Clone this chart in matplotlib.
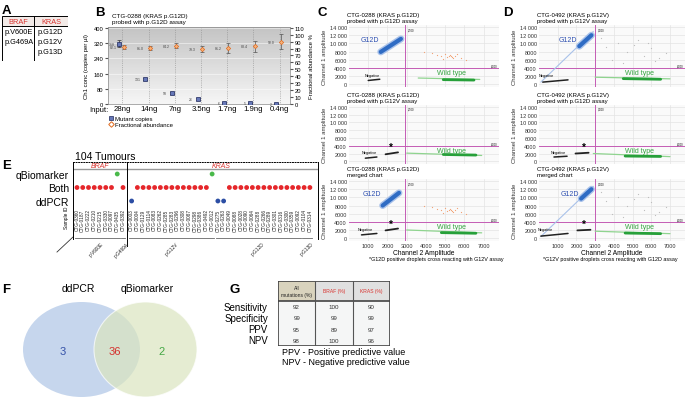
import numpy as np
import matplotlib
matplotlib.use('Agg')
import matplotlib.pyplot as plt
from matplotlib.patches import Rectangle, Ellipse
from matplotlib.lines import Line2D
from matplotlib.colors import LinearSegmentedColormap

plt.rcParams['font.family'] = ['Liberation Sans', 'DejaVu Sans']

W, H = 685, 410

# ---------------- data ----------------
# A: mutations covered by the assays
braf_mutations = ['p.V600E', 'p.G469A']
kras_mutations = ['p.G12D', 'p.G12V', 'p.G13D']

# B: dilution series
inputs = ['28ng', '14ng', '7ng', '3.5ng', '1.7ng', '1.9ng', '0.4ng']
mutant_copies = [318, 131, 58, 26, 6, 5, 2]
mutant_err = [16, 6, 4, 3, 2, 2, 1]
frac_abund = [82.1, 81.0, 84.2, 79.3, 81.2, 83.4, 90.0]
frac_err = [3, 3, 4, 5, 7, 8, 11]

# C / D: droplet clusters, (x start, x end), (y start, y end) in amplitude units
c_clusters = [
    dict(pos=((1650, 2700), (7900, 11100)), neg=((1000, 1600), (900, 1200)),
         wt=((3600, 6800), (1500, 1150)), wt_core=((4900, 6500), (1100, 1000))),
    dict(neg=((850, 1450), (800, 1100)), star=((1900, 2550), (1800, 2300)),
         wt=((3000, 6900), (2100, 1500)), wt_core=((4900, 6600), (1750, 1600))),
    dict(pos=((1750, 2600), (8000, 11100)), neg=((650, 1450), (800, 1150)),
         star=((1900, 2550), (1900, 2350)),
         wt=((3000, 6900), (2000, 1300)), wt_core=((4800, 6600), (1350, 1200))),
]
d_clusters = [
    dict(trail=((100, 2900), (500, 12900)), pos=((2150, 2800), (9300, 12000)),
         neg=((200, 1550), (500, 1050)),
         wt=((3000, 7000), (1700, 1300)), wt_core=((4500, 6500), (1350, 1200))),
    dict(neg=((800, 1500), (1100, 1300)), star=((1950, 2650), (2000, 2200)),
         wt=((2900, 7000), (2000, 1200)), wt_core=((4600, 6500), (1350, 1250))),
    dict(trail=((100, 2900), (400, 12700)), pos=((2250, 2800), (9700, 12000)),
         neg=((100, 1550), (500, 1150)), star=((2050, 2750), (1900, 2050)),
         wt=((3000, 7000), (1700, 1100)), wt_core=((4600, 6500), (1250, 1100))),
]
# sparse double-positive droplets
c_sparse_x = [4300, 4600, 4800, 5000, 5100, 5200, 5300, 5400, 5500, 5600, 5800, 4900, 5250, 5350, 3900, 6100]
c_sparse_y = [7600, 7200, 6900, 7400, 6600, 6800, 7000, 6500, 6900, 7300, 6400, 6200, 7100, 6700, 7800, 6000]
d_sparse_x = [3600, 4200, 4700, 5100, 5600, 6000, 6400, 6800, 3900, 5300, 4500, 6200, 3300, 5800]
d_sparse_y = [9000, 10200, 8000, 9500, 7000, 8800, 6500, 7600, 6000, 10800, 5200, 5600, 11200, 10000]
c_threshold = (2900, 4000)
d_threshold = (3000, 4000)

# E: concordance by sample
braf_ids = ['CTG-0360', 'CTG-0187', 'CTG-0222', 'CTG-0210', 'CTG-0215', 'CTG-0330',
            'CTG-0097', 'CTG-0435', 'CTG-0392']
braf_calls = ['both', 'both', 'both', 'both', 'both', 'both', 'both', 'q', 'both']
kras_ids = ['CTG-0003', 'CTG-0004', 'CTG-0129', 'CTG-0114', 'CTG-0083', 'CTG-0262',
            'CTG-0285', 'CTG-0283', 'CTG-0296', 'CTG-0308', 'CTG-0087', 'CTG-0298',
            'CTG-0386', 'CTG-0492', 'CTG-0012', 'CTG-0275', 'CTG-0263', 'CTG-0049',
            'CTG-0088', 'CTG-0028', 'CTG-0090', 'CTG-0064', 'CTG-0288', 'CTG-0266',
            'CTG-0289', 'CTG-0301', 'CTG-0316', 'CTG-0300', 'CTG-0359', 'CTG-0092',
            'CTG-0104', 'CTG-0314']
kras_calls = ['dd', 'both', 'both', 'both', 'both', 'both', 'both', 'both', 'both',
              'both', 'both', 'both', 'both', 'both', 'q', 'dd', 'dd', 'both', 'both',
              'both', 'both', 'both', 'both', 'both', 'both', 'both', 'both', 'both',
              'both', 'both', 'both', 'both']
braf_groups = [('p.V600E', 0, 7), ('p.G469A', 8, 8)]
kras_groups = [('p.G12V', 0, 14), ('p.G12D', 15, 29), ('p.G13D', 30, 31)]
row_names = ['ddPCR', 'Both', 'qBiomarker']

# F: Venn counts
venn_only_ddpcr = 3
venn_both = 36
venn_only_qbio = 2

# G: performance table
g_columns = ['All\nmutations (%)', 'BRAF (%)', 'KRAS (%)']
g_metrics = ['Sensitivity', 'Specificity', 'PPV', 'NPV']
all_pct = [92, 99, 95, 98]
braf_pct = [100, 99, 89, 100]
kras_pct = [90, 99, 97, 96]

RED = '#d8322e'

fig = plt.figure(figsize=(W / 100, H / 100), dpi=100)


def px_axes(x0, y0, x1, y1):
    return fig.add_axes([x0 / W, 1 - y1 / H, (x1 - x0) / W, (y1 - y0) / H])


def ftext(x, y, s, **kw):
    return fig.text(x / W, 1 - y / H, s, **kw)


# panel letters
for letter, (lx, ly) in zip('ABCDEFG', [(2, 5), (95, 7), (318, 7), (503, 7),
                                         (2, 160), (2, 284), (230, 284)]):
    ftext(lx, ly, letter, fontsize=9.5, fontweight='bold', va='top', ha='left')

# ---------------- A ----------------
ax_a = px_axes(2, 17, 68, 62)
ax_a.set_xlim(0, 66)
ax_a.set_ylim(45, 0)
ax_a.axis('off')
ax_a.add_patch(Rectangle((0, 0), 66, 10, facecolor='#f3ebe8', edgecolor='none'))
ax_a.add_patch(Rectangle((0, 0), 66, 45, facecolor='none', edgecolor='black', lw=0.7))
ax_a.plot([0, 66], [10, 10], color='black', lw=0.7)
ax_a.plot([32, 32], [0, 45], color='black', lw=0.7)
ax_a.text(16, 5.3, 'BRAF', color=RED, fontsize=5.3, ha='center', va='center')
ax_a.text(49, 5.3, 'KRAS', color=RED, fontsize=5.3, ha='center', va='center')
for i, m in enumerate(braf_mutations):
    ax_a.text(2.5, 16 + 10 * i, m, fontsize=5.3, va='center')
for i, m in enumerate(kras_mutations):
    ax_a.text(35.5, 16 + 10 * i, m, fontsize=5.3, va='center')

# ---------------- B ----------------
ax_b = px_axes(108, 28, 290, 105)
grad = LinearSegmentedColormap.from_list('bg', ['#f6f6f6', '#c4c4c4'])
ax_b.imshow(np.linspace(0, 1, 100).reshape(-1, 1)[::-1], extent=[0, 1, 0, 1],
            transform=ax_b.transAxes, aspect='auto', cmap=grad, zorder=0)
xs = np.arange(len(inputs))
ax_b.set_xlim(-0.55, 6.4)
ax_b.set_ylim(0, 405)
ax_b.set_yticks(range(0, 401, 80))
ax_b.set_xticks(xs)
ax_b.set_xticklabels(inputs, fontsize=5.6)
ax_b.tick_params(axis='y', labelsize=4.2, length=2, pad=1.5, color='#555')
ax_b.tick_params(axis='x', length=0, pad=1)
ax_b.grid(axis='y', color='white', lw=0.5, alpha=0.7)
ax_b.grid(axis='x', color='#8a8a8a', lw=0.5, ls=':')
for s in ax_b.spines.values():
    s.set_color('#888')
    s.set_linewidth(0.5)
ax_b.set_ylabel('Ch1 conc (copies per µl)', fontsize=4.3, labelpad=3)
ax_b.errorbar(xs - 0.12, mutant_copies, yerr=mutant_err, fmt='s', ms=2.2,
              mfc='#6678b8', mec='#1d275a', mew=0.5, ecolor='#333', elinewidth=0.5,
              capsize=1.5, capthick=0.5, zorder=4)
for x, v in zip(xs, mutant_copies):
    ax_b.text(x - 0.3, v, str(v), fontsize=2.5, color='#444', ha='right', va='center')

ax_b2 = ax_b.twinx()
ax_b2.set_ylim(0, 111)
ax_b2.set_yticks(range(0, 111, 10))
ax_b2.tick_params(axis='y', labelsize=4.2, length=2, pad=1.5, color='#555')
for s in ax_b2.spines.values():
    s.set_visible(False)
ax_b2.set_ylabel('Fractional abundance %', fontsize=4.3, labelpad=3)
ax_b2.errorbar(xs + 0.05, frac_abund, yerr=frac_err, fmt='D', ms=2.2,
               mfc='#f6b27a', mec='#e06a1e', mew=0.5, ecolor='#555', elinewidth=0.5,
               capsize=1.5, capthick=0.5, zorder=4)
for x, v in zip(xs, frac_abund):
    ax_b2.text(x - 0.2, v, '%.1f' % v, fontsize=2.5, color='#444', ha='right', va='center')

ftext(112, 14, 'CTG-0288 (KRAS p.G12D)\nprobed with p.G12D assay', fontsize=4.5,
      va='top', linespacing=1.3)
ftext(108, 110, 'Input:', fontsize=5.6, ha='right', va='center')
fig.legend(handles=[Line2D([], [], ls='none', marker='s', ms=2.8, mfc='#6678b8',
                           mec='#1d275a', mew=0.5),
                    Line2D([], [], ls='none', marker='D', ms=2.8, mfc='none',
                           mec='#e06a1e', mew=0.7)],
           labels=['Mutant copies', 'Fractional abundance'], fontsize=4.3,
           frameon=False, loc='upper left', bbox_to_anchor=(106 / W, 1 - 114 / H),
           handlelength=0.6, handletextpad=0.4, labelspacing=0.1, borderpad=0)


# ---------------- C / D ----------------
def fmt_amp(v):
    return '{:,}'.format(v).replace(',', ' ') if v >= 10000 else str(v)


def droplet_plot(ax, cl, sparse_x, sparse_y, sparse_color, threshold, bottom, star):
    ax.set_facecolor('#fafafa')
    ax.set_xlim(0, 7800)
    ax.set_ylim(-700, 14500)
    ax.set_xticks(range(1000, 8000, 1000))
    yt = list(range(0, 14001, 2000))
    ax.set_yticks(yt)
    ax.set_yticklabels([fmt_amp(v) for v in yt])
    ax.grid(color='#e4e4e4', lw=0.5)
    ax.set_axisbelow(True)
    for s in ax.spines.values():
        s.set_visible(False)
    ax.tick_params(length=0, labelsize=4.0, pad=1.5, labelcolor='#333')
    if not bottom:
        ax.set_xticklabels([])
    ax.set_ylabel('Channel 1 amplitude', fontsize=4.3, labelpad=2, color='#333')
    ax.axvline(threshold[0], color='#c45cb5', lw=0.7)
    ax.axhline(threshold[1], color='#c45cb5', lw=0.7)
    ax.text(threshold[0] + 150, 14000, '{:,}'.format(threshold[0]), fontsize=1.8, va='top')
    ax.text(7700, threshold[1] + 200, '{:,}'.format(threshold[1]), fontsize=1.8, ha='right')
    if sparse_x is not None:
        ax.scatter(sparse_x, sparse_y, s=0.8, color=sparse_color, lw=0)
    if 'trail' in cl:
        ax.plot(*cl['trail'], color='#a9c2ea', lw=0.8, solid_capstyle='round')
    if 'pos' in cl:
        ax.plot(*cl['pos'], color='#a9c2ea', lw=5, solid_capstyle='round')
        ax.plot(*cl['pos'], color='#2f6cc4', lw=3, solid_capstyle='round')
        lx = cl['pos'][0][0] - 100
        ax.text(lx, 11000, 'G12D', color='#2d4fb0', fontsize=5, ha='right', va='center')
    ax.plot(*cl['neg'], color='#222', lw=1.1, solid_capstyle='round')
    ax.text(cl['neg'][0][0] - 200, 2300, 'Negative', fontsize=2.8, va='center')
    if 'star' in cl:
        ax.plot(*cl['star'], color='#222', lw=1.3, solid_capstyle='round')
        ax.text(star, 3600, '*', fontsize=7, ha='center', va='center', fontweight='bold')
    ax.plot(*cl['wt'], color='#8fd48f', lw=0.9, solid_capstyle='round')
    ax.plot(*cl['wt_core'], color='#27a03a', lw=2.0, solid_capstyle='round')
    ax.text(4600, 2900, 'Wild type', color='#33a33f', fontsize=5, va='center')


c_titles = ['CTG-0288 (KRAS p.G12D)\nprobed with p.G12D assay',
            'CTG-0288 (KRAS p.G12D)\nprobed with p.G12V assay',
            'CTG-0288 (KRAS p.G12D)\nmerged chart']
d_titles = ['CTG-0492 (KRAS p.G12V)\nprobed with p.G12V assay',
            'CTG-0492 (KRAS p.G12V)\nprobed with p.G12D assay',
            'CTG-0492 (KRAS p.G12V)\nmerged chart']
rows_px = [(26, 88), (106, 165), (180, 242)]
for k, (y0, y1) in enumerate(rows_px):
    axc = px_axes(349, y0, 499, y1)
    sx = c_sparse_x if k != 1 else None
    droplet_plot(axc, c_clusters[k], sx, c_sparse_y, '#f2a273', c_threshold, k == 2, 2200)
    ftext(347, y0 - 13, c_titles[k], fontsize=4.3, va='top', linespacing=1.3)
    axd = px_axes(539, y0, 685, y1)
    sx = d_sparse_x if k != 1 else None
    droplet_plot(axd, d_clusters[k], sx, d_sparse_y, '#bdbdbd', d_threshold, k == 2, 2400)
    ftext(537, y0 - 13, d_titles[k], fontsize=4.3, va='top', linespacing=1.3)
    if k == 2:
        axc.set_xlabel('Channel 2 Amplitude', fontsize=4.8, labelpad=1)
        axd.set_xlabel('Channel 2 Amplitude', fontsize=4.8, labelpad=1)

ftext(436, 260, '*G12D positive droplets cross reacting with G12V assay', fontsize=3.9,
      ha='center', va='center')
ftext(610, 260, '*G12V positive droplets cross reacting with G12D assay', fontsize=3.9,
      ha='center', va='center')

# ---------------- E ----------------
SP = 5.75
ax_e = px_axes(73, 163, 318, 240)
ax_e.set_xlim(-4 / SP, (318 - 77) / SP)
ax_e.set_ylim(-38 / 13.5, 39 / 13.5)
braf_x = np.arange(len(braf_ids))
kras_x = 9.5 + np.arange(len(kras_ids))
row_of = {'dd': 0, 'both': 1, 'q': 2}
col_of = {'dd': '#2c4ea4', 'both': '#e5262a', 'q': '#49b94a'}
calls = braf_calls + kras_calls
xs_e = np.concatenate([braf_x, kras_x])
ax_e.scatter(xs_e, [row_of[c] for c in calls], c=[col_of[c] for c in calls], s=12,
             lw=0, zorder=3)
ax_e.set_yticks([0, 1, 2])
ax_e.set_yticklabels(row_names, fontsize=7.5)
ax_e.tick_params(axis='y', length=0, pad=3)
ax_e.set_xticks([])
ax_e.spines['bottom'].set_visible(False)
ax_e.spines['top'].set_linestyle(':')
for s in ax_e.spines.values():
    s.set_linewidth(0.7)
ax_e.axhline(2.38, color='#999', lw=1.0)
ax_e.plot([8.75, 8.75], [2.89, -3.35], color='black', lw=0.7, clip_on=False)
ax_e.text(np.mean(braf_x), 2.62, 'BRAF', color=RED, fontsize=5, style='italic',
          ha='center', va='center')
ax_e.text(np.mean(kras_x), 2.62, 'KRAS', color=RED, fontsize=5, style='italic',
          ha='center', va='center')
for x, sid in zip(xs_e, braf_ids + kras_ids):
    ax_e.text(x, -0.55, sid, rotation=90, fontsize=3.4, ha='center', va='top', color='#222')
for groups, base in [(braf_groups, 0), (kras_groups, 9.5)]:
    for name, a, b in groups:
        ax_e.plot([base + a - 0.4, base + b + 0.4], [-2.72, -2.72], color='#666', lw=0.6,
                  clip_on=False)
        ax_e.text(base + (a + b) / 2 + 0.6, -2.95, name, rotation=45, fontsize=3.4,
                  ha='right', va='top', rotation_mode='anchor', color='#222')
ax_e.plot([-3.48, -0.7], [-3.78, -2.67], color='#333', lw=0.6, clip_on=False)
ax_e.text(-1.9, -1.2, 'Sample ID', rotation=90, fontsize=3.4, ha='center', va='center')
ftext(75, 157, '104 Tumours', fontsize=7.5, va='center')

# ---------------- F ----------------
ax_f = px_axes(20, 300, 200, 400)
ax_f.set_xlim(0, 180)
ax_f.set_ylim(0, 100)
ax_f.axis('off')
ax_f.add_patch(Ellipse((61.5, 49.5), 117, 95, facecolor='#bccfea', alpha=0.85,
                       edgecolor='none'))
ax_f.add_patch(Ellipse((125.5, 49.5), 103, 95, facecolor='#dae5bf', alpha=0.7,
                       edgecolor='white', lw=0.8))
ax_f.text(43, 48, str(venn_only_ddpcr), color='#3552a8', fontsize=8, ha='center', va='center')
ax_f.text(95, 48, str(venn_both), color='#d5312e', fontsize=8, ha='center', va='center')
ax_f.text(142, 48, str(venn_only_qbio), color='#44a845', fontsize=8, ha='center', va='center')
ftext(78, 289, 'ddPCR', fontsize=7.5, ha='center', va='center')
ftext(147, 289, 'qBiomarker', fontsize=7.5, ha='center', va='center')

# ---------------- G ----------------
ax_g = px_axes(278, 282, 390, 347)
ax_g.set_xlim(0, 3)
ax_g.set_ylim(65, 0)
ax_g.axis('off')
ax_g.add_patch(Rectangle((0, 0), 1, 20, facecolor='#d9d3bd', edgecolor='none'))
ax_g.add_patch(Rectangle((1, 0), 2, 20, facecolor='#e0e0e0', edgecolor='none'))
ax_g.add_patch(Rectangle((0, 20), 3, 45, facecolor='#f5f6f6', edgecolor='none'))
ax_g.add_patch(Rectangle((0, 0), 3, 65, facecolor='none', edgecolor='#444', lw=1.2))
ax_g.plot([0, 3], [20, 20], color='#444', lw=1.2)
for cx in (1, 2):
    ax_g.plot([cx, cx], [0, 65], color='#555', lw=0.8)
for j, col in enumerate(g_columns):
    ax_g.text(j + 0.5, 10, col, fontsize=3.6, ha='center', va='center',
              color='#222' if j == 0 else RED, linespacing=1.4)
for i, metric in enumerate(g_metrics):
    y = 20 + 11.25 * (i + 0.5)
    ax_g.text(-0.27, y, metric, fontsize=7, ha='right', va='center', clip_on=False)
    for j, vals in enumerate([all_pct, braf_pct, kras_pct]):
        ax_g.text(j + 0.5, y, str(vals[i]), fontsize=4.5, ha='center', va='center',
                  color='#333')
ftext(282, 353, 'PPV - Positive predictive value', fontsize=6.5, va='center')
ftext(282, 363, 'NPV - Negative predictive value', fontsize=6.5, va='center')

fig.savefig('out.png', dpi=100)
